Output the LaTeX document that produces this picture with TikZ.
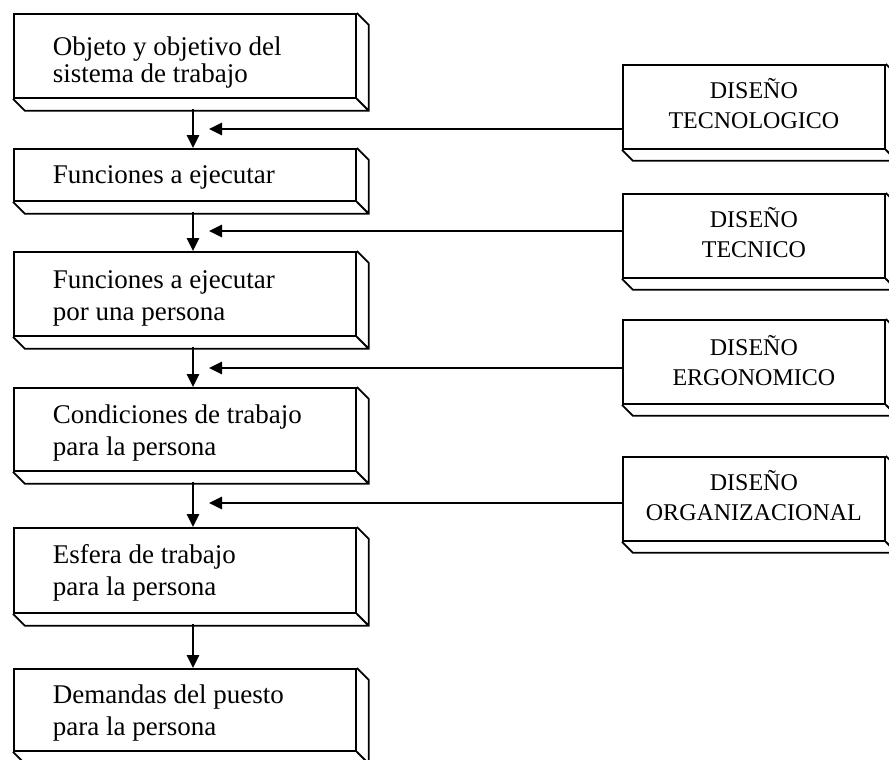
\documentclass[tikz,border=0pt]{standalone}
\usepackage{fontspec}
\setmainfont{Liberation Serif}
\usetikzlibrary{calc,arrows.meta}
\newcommand{\slab}[2]{%
  \draw[boxline] (#1.south west) -- ++(#2,#2) -- ($(#1.south east)+(#2,#2)$)
     -- ($(#1.north east)+(#2,#2)$) -- (#1.north east)
     (#1.south east) -- ++(#2,#2);}
\newcommand{\lefttext}[2][32]{\parbox[t]{264pt}{\raggedright\fontsize{27}{#1}\selectfont #2}}
\newcommand{\righttext}[1]{\parbox[t]{252pt}{\centering\fontsize{24}{30}\selectfont #1}}
\begin{document}
\begin{tikzpicture}[x=1pt,y=-1pt,
  boxline/.style={line width=1.8pt, line join=miter},
  leftbox/.style={boxline, draw, fill=white, anchor=north west, rectangle,
     inner xsep=39pt, inner ysep=0pt, minimum width=342pt, minimum height=84pt},
  rightbox/.style={boxline, draw, fill=white, anchor=north west, rectangle,
     inner xsep=5pt, inner ysep=0pt, minimum width=262pt, minimum height=84pt,
     text height=10pt, text depth=26pt},
  arr/.style={line width=2.7pt, -{Triangle[length=13pt,width=12pt]}}]
\useasboundingbox (0,0) rectangle (889,760);
% left column
\node[leftbox, text height=10pt, text depth=10pt] (b1) at (13,13)
  {\lefttext[27]{Objeto y objetivo del\\sistema de trabajo}};
\slab{b1}{12}
\node[leftbox, minimum height=52pt, text height=20pt, text depth=2pt] (b2) at (13,148)
  {\lefttext{Funciones a ejecutar}};
\slab{b2}{12}
\node[leftbox, text height=10pt, text depth=20pt] (b3) at (13,251)
  {\lefttext{Funciones a ejecutar\\por una persona}};
\slab{b3}{12}
\node[leftbox, minimum height=83pt, text height=10pt, text depth=21pt] (b4) at (13,387)
  {\lefttext{Condiciones de trabajo\\para la persona}};
\slab{b4}{12}
\node[leftbox, minimum height=85pt, text height=10pt, text depth=23pt] (b5) at (13,527)
  {\lefttext{Esfera de trabajo\\para la persona}};
\slab{b5}{12}
\node[leftbox, minimum height=82pt, text height=10pt, text depth=22pt] (b6) at (13,668)
  {\lefttext{Demandas del puesto\\para la persona}};
\slab{b6}{12}
% right column
\node[rightbox] (r1) at (622,64) {\righttext{DISEÑO\\TECNOLOGICO}};
\slab{r1}{11}
\node[rightbox] (r2) at (622,193) {\righttext{DISEÑO\\TECNICO}};
\slab{r2}{11}
\node[rightbox, text depth=22pt] (r3) at (622,319) {\righttext{DISEÑO\\ERGONOMICO}};
\slab{r3}{11}
\node[rightbox] (r4) at (622,456) {\righttext{DISEÑO\\ORGANIZACIONAL}};
\slab{r4}{11}
% vertical arrows
\coordinate (v1) at (193,109);
\coordinate (v2) at (193,212);
\coordinate (v3) at (193,347);
\coordinate (v4) at (193,482);
\coordinate (v5) at (193,624);
\draw[arr] (v1) -- (v1 |- b2.north);
\draw[arr] (v2) -- (v2 |- b3.north);
\draw[arr] (v3) -- (v3 |- b4.north);
\draw[arr] (v4) -- (v4 |- b5.north);
\draw[arr] (v5) -- (v5 |- b6.north);
% horizontal arrows
\coordinate (h1) at (209,129);
\coordinate (h2) at (209,231);
\coordinate (h3) at (209,368);
\coordinate (h4) at (209,503);
\draw[arr] (h1 -| r1.west) -- (h1);
\draw[arr] (h2 -| r2.west) -- (h2);
\draw[arr] (h3 -| r3.west) -- (h3);
\draw[arr] (h4 -| r4.west) -- (h4);
\end{tikzpicture}
\end{document}
